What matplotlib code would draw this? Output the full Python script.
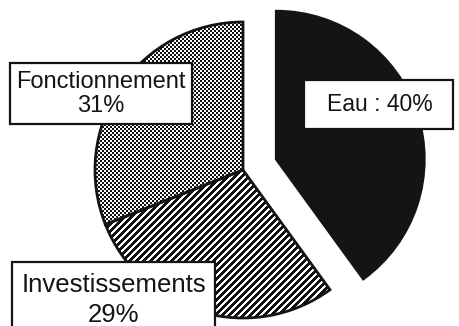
import matplotlib
matplotlib.use("Agg")
import matplotlib.pyplot as plt
import numpy as np
from matplotlib.patches import Rectangle, Wedge

W, H = 460, 326

labels = ["Eau : 40%", "Investissements\n29%", "Fonctionnement\n31%"]
shares = [40, 29, 31]
explode = [35, 0, 0]
fills = ["solid", "stripes", "stipple"]

plt.rcParams["font.family"] = ["Liberation Sans", "DejaVu Sans"]

INK = "#141414"

fig = plt.figure(figsize=(W / 100, H / 100), dpi=100)
fig.patch.set_facecolor("white")
ax = fig.add_axes([0, 0, 1, 1])


def py(y):
    # pixel rows run downward, data y runs upward
    return H - y


# texture grids covering the whole canvas, one cell per output pixel
rows, cols = np.mgrid[0:H, 0:W]
textures = {
    "stripes": ((cols - rows) % 7 < 4).astype(float),
    "stipple": ((rows // 2 + cols // 2) % 2 == 0).astype(float),
}

wedges, _ = ax.pie(shares, explode=explode, center=(243, py(170)), radius=148,
                   startangle=90, counterclock=False, frame=False)
for w, kind in zip(wedges, fills):
    w.set_linewidth(0)
    if kind == "solid":
        w.set_facecolor(INK)
    else:
        w.set_facecolor("white")
        img = ax.imshow(textures[kind], cmap="gray_r", vmin=0, vmax=1.08,
                        origin="lower", extent=(0, W, 0, H),
                        interpolation="nearest", zorder=2)
        img.set_clip_path(w)
    # black outline on top of the fill
    ax.add_patch(Wedge(w.center, w.r, w.theta1, w.theta2, facecolor="none",
                       edgecolor=INK, linewidth=2, zorder=3))

ax.set_xlim(0, W)
ax.set_ylim(0, H)
ax.set_aspect("equal")
ax.axis("off")

# label boxes: (x0, y0, x1, y1) in pixel rows
boxes = [(304, 80, 453, 129), (12, 262, 215, 340), (10, 63, 192, 124)]
text_pos = [(380, 105), (114, 300), (101, 94)]
sizes = [16.5, 18.5, 17]
spacing = [1.15, 1.3, 1.15]
for lab, (x0, y0, x1, y1), (tx, ty), fs, ls in zip(labels, boxes, text_pos, sizes, spacing):
    ax.add_patch(Rectangle((x0, py(y1)), x1 - x0, y1 - y0, facecolor="white",
                           edgecolor=INK, linewidth=1.6, zorder=5))
    ax.text(tx, py(ty), lab, ha="center", va="center", fontsize=fs,
            color=INK, linespacing=ls, zorder=6)

fig.savefig("out.png", dpi=100, facecolor="white")
